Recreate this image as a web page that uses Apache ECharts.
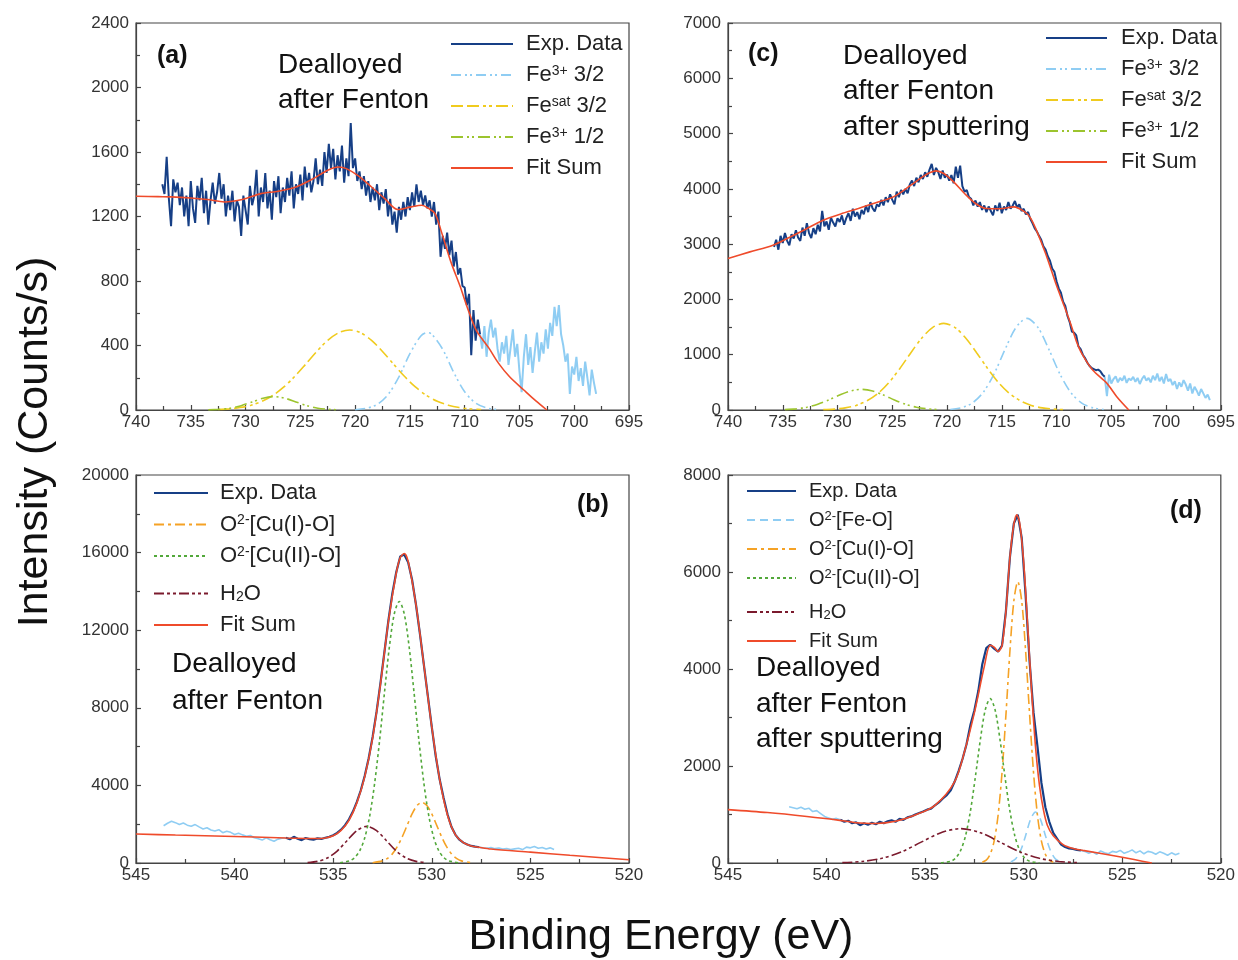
<!DOCTYPE html>
<html>
<head>
<meta charset="utf-8">
<title>XPS Fe 2p / O 1s</title>
<script src="https://cdn.jsdelivr.net/npm/echarts@6/dist/echarts.min.js"></script>
<style>
  html, body { margin: 0; padding: 0; background: #fff; }
  #chart { width: 1238px; height: 960px; }
</style>
</head>
<body>
<div id="chart"></div>
<script>
const FONT = '"Liberation Sans", Arial, Helvetica, sans-serif'

// ---------- panel (a): Fe 2p, after Fenton ----------
// measured spectrum, 0.2 eV steps going down in energy
const aExpStart = 737.6
const aExp = [
  1400, 1340, 1570, 1310, 1140, 1430, 1350, 1410, 1270, 1380,
  1200, 1330, 1140, 1420, 1250, 1160, 1390, 1300, 1440, 1220,
  1360, 1150, 1300, 1410, 1280, 1350, 1470, 1310, 1400, 1200,
  1330, 1240, 1360, 1170, 1300, 1260, 1080, 1330, 1240, 1150,
  1390, 1270, 1330, 1490, 1200, 1380, 1290, 1470, 1250, 1360,
  1180, 1420, 1320, 1450, 1220, 1380, 1290, 1440, 1330, 1480,
  1250, 1400, 1340, 1460, 1300, 1510, 1380, 1470, 1350, 1420,
  1560, 1400, 1490, 1390, 1600, 1470, 1650, 1500, 1620, 1430,
  1580, 1480, 1640, 1410, 1560, 1450, 1780, 1500, 1560, 1420,
  1480, 1370, 1450, 1330, 1420, 1290, 1380, 1300, 1400, 1240,
  1350, 1280, 1370, 1200, 1310, 1150, 1230, 1100, 1260, 1180,
  1290, 1200, 1320, 1240, 1350, 1260, 1400, 1290, 1360, 1270,
  1330, 1250, 1300, 1200, 1290, 1150, 1230, 950, 1080, 1000,
  1100, 960, 1050, 890, 980, 840, 880, 770, 760, 650,
  720, 340, 620, 430, 560, 470
]
// part of the spectrum outside the fit window
const aOutStart = 708.6
const aOut = [
  470, 380, 520, 330, 480, 560, 450, 510, 380, 300,
  420, 350, 460, 280, 390, 500, 330, 410, 240, 110,
  330, 470, 280, 390, 230, 360, 480, 300, 420, 350,
  500, 380, 540, 460, 640, 520, 650, 470, 400, 300,
  350, 100, 270, 220, 330, 180, 260, 150, 300, 200,
  90, 250, 170, 100
]
const aFitE = [740, 738, 736.8, 735, 733.5, 731.9, 730.3, 728.6, 727, 725.4, 723.8, 722.5, 721.5, 720.8, 719.8, 718.5, 717.3, 716.1, 715, 713.9, 713.3, 712.7, 712.1, 711.25, 710.4, 709.8, 708.95, 707.8, 706.9, 705.9, 704.6, 703.5, 702.5]
const aFitI = [1326, 1323, 1322, 1315, 1305, 1290, 1305, 1342, 1357, 1383, 1435, 1487, 1507, 1497, 1456, 1383, 1311, 1243, 1258, 1270, 1250, 1218, 1100, 917, 764, 644, 496, 385, 289, 206, 124, 56, 0]
const aFe32E = [720, 719, 718, 717, 716, 715, 714, 713.4, 713, 712, 711, 710, 709, 708, 707]
const aFe32I = [2, 10, 34, 95, 206, 349, 459, 480, 470, 376, 234, 113, 43, 13, 3]
const aSatE = [732.5, 731.5, 730.5, 729.5, 728.5, 727.5, 726.5, 725.5, 724.5, 723.5, 722.5, 721.5, 720.5, 719.5, 718.5, 717.5, 716.5, 715.5, 714.5, 713.5, 712.5, 711.5, 710.5, 709.5, 708.5]
const aSatI = [3, 7, 15, 30, 54, 91, 143, 209, 285, 363, 432, 479, 496, 479, 432, 363, 285, 209, 143, 91, 54, 30, 15, 7, 3]
const aFe12E = [733.4, 732.4, 731.4, 730.4, 729.4, 728.4, 727.4, 726.4, 725.4, 724.4, 723.4, 722.4, 721.4]
const aFe12I = [1, 4, 11, 27, 50, 73, 83, 73, 50, 27, 11, 4, 1]

// ---------- panel (c): Fe 2p, after Fenton + sputtering ----------
const cExpStart = 735.8
const cExp = [
  2950, 3080, 2900, 3150, 3020, 3200, 3060, 2980, 3180, 3100,
  3250, 3120, 3060, 3300, 3150, 3380, 3200, 3110, 3290, 3180,
  3350, 3230, 3600, 3320, 3410, 3260, 3480, 3390, 3320, 3470,
  3400, 3520, 3350, 3470, 3560, 3420, 3640, 3500, 3580, 3450,
  3620, 3540, 3700, 3580, 3760, 3650, 3590, 3720, 3680, 3800,
  3700, 3850, 3760, 3900, 3800, 3720, 3950, 3850, 3980, 3900,
  4000, 3920, 4080, 4150, 4050, 4200, 4120, 4250, 4180, 4300,
  4220, 4350, 4450, 4250, 4380, 4300, 4180, 4330, 4200, 4260,
  4150, 4250, 4100, 4400, 4200, 4420, 4050, 3950, 3980, 3850,
  3820, 3700, 3790, 3680, 3760, 3620, 3700, 3580, 3680, 3600,
  3520, 3700, 3600, 3750, 3560, 3680, 3620, 3760, 3640, 3700,
  3780, 3660, 3720, 3600, 3640, 3540, 3580, 3460, 3380, 3290,
  3230, 3150, 3080, 2960, 2900, 2780, 2700, 2560, 2500, 2330,
  2200, 2120, 1960, 1880, 1700, 1590, 1420, 1400, 1350, 1150,
  1100, 1000, 940, 860, 800, 760, 740, 720, 730, 700,
  640, 600
]
const cOutStart = 705.6
const cOut = [
  600, 250, 640, 480, 560, 610, 500, 580, 530, 620,
  490, 570, 540, 600, 510, 580, 470, 560, 620, 530,
  580, 500, 620, 540, 660, 520, 600, 480, 650, 520,
  560, 450, 520, 380, 500, 420, 540, 460, 350, 480,
  300, 420, 350, 260, 380, 300, 220, 280, 180
]
const cFitE = [740, 738, 735.9, 734.6, 733, 731.3, 729.7, 728.1, 726.5, 724.9, 723.3, 722.2, 721.6, 721, 720.3, 719.4, 718.4, 717.4, 716.4, 715.1, 713.9, 712.9, 712.4, 711.9, 711, 710, 709.3, 708.7, 708.2, 707.7, 706.7, 705.4, 704.5, 703.4]
const cFitI = [2741, 2860, 2982, 3102, 3260, 3434, 3545, 3645, 3750, 3855, 4066, 4220, 4290, 4325, 4277, 4126, 3916, 3735, 3645, 3640, 3675, 3584, 3480, 3280, 2830, 2250, 1880, 1550, 1250, 1024, 723, 482, 241, 0]
const cFe32E = [719.7, 718.7, 717.7, 716.7, 715.7, 714.7, 713.7, 712.7, 711.7, 710.7, 709.7, 708.7, 707.7, 706.7, 705.7]
const cFe32I = [10, 40, 125, 318, 654, 1097, 1494, 1657, 1494, 1097, 654, 318, 125, 40, 10]
const cSatE = [731.3, 730.3, 729.3, 728.3, 727.3, 726.3, 725.3, 724.3, 723.3, 722.3, 721.3, 720.3, 719.3, 718.3, 717.3, 716.3, 715.3, 714.3, 713.3, 712.3, 711.3, 710.3, 709.3]
const cSatI = [6, 16, 38, 83, 166, 300, 497, 752, 1037, 1303, 1496, 1566, 1496, 1303, 1037, 752, 497, 300, 166, 83, 38, 16, 6]
const cFe12E = [734.8, 733.8, 732.8, 731.8, 730.8, 729.8, 728.8, 727.8, 726.8, 725.8, 724.8, 723.8, 722.8, 721.8, 720.8]
const cFe12I = [7, 21, 50, 104, 182, 271, 344, 373, 344, 271, 182, 104, 50, 21, 7]

// ---------- panel (b): O 1s, after Fenton ----------
const bOutLStart = 543.6
const bOutL = [
  1920, 2050, 2150, 2080, 1980, 2060, 1950, 1890, 1980, 1860,
  1750, 1820, 1700, 1650, 1720, 1560, 1640, 1580, 1470, 1530,
  1450, 1380, 1420, 1300, 1250, 1180, 1300, 1200, 1120, 1230,
  1280, 1300
]
const bExpStart = 537.4
const bExp = [
  1300, 1220, 1350, 1250, 1180, 1290, 1230, 1200, 1270, 1240,
  1300, 1350, 1430, 1550, 1720, 1950, 2250, 2650, 3150, 3750,
  4500, 5400, 6500, 7800, 9300, 10900, 12500, 13900, 15000, 15800,
  15900, 15500, 14600, 13300, 11800, 10200, 8600, 7000, 5500, 4300,
  3350, 2500, 1850, 1450, 1200, 1050, 950, 880, 840, 810
]
const bOutRStart = 527.6
const bOutR = [810, 780, 760, 800, 740, 770, 720, 750, 700, 730, 760, 690, 820, 780, 850, 760, 800, 720, 780, 700]
const bFitE = [545, 543, 541, 539, 537.4, 536.4, 535.8, 535.4, 535.0, 534.6, 534.2, 533.8, 533.4, 533.0, 532.6, 532.2, 531.8, 531.6, 531.4, 531.2, 530.8, 530.4, 530.0, 529.6, 529.2, 528.8, 528.4, 528.0, 527.6, 527, 525, 523, 520]
const bFitI = [1494, 1440, 1390, 1340, 1290, 1265, 1260, 1290, 1400, 1680, 2200, 3100, 4450, 6450, 9250, 12450, 14950, 15750, 15950, 15550, 13300, 10200, 7000, 4300, 2450, 1450, 1050, 880, 810, 720, 560, 400, 170]
const bCu1E = [533.0, 532.5, 532.25, 532.0, 531.75, 531.5, 531.25, 531.0, 530.75, 530.5, 530.25, 530.0, 529.75, 529.5, 529.25, 529.0, 528.75, 528.5, 528.0]
const bCu1I = [15, 110, 240, 470, 840, 1350, 1940, 2530, 2960, 3125, 2960, 2530, 1940, 1350, 840, 470, 240, 110, 15]
const bCu2E = [534.65, 534.15, 533.9, 533.65, 533.4, 533.15, 532.9, 532.65, 532.4, 532.15, 531.9, 531.65, 531.4, 531.15, 530.9, 530.65, 530.4, 530.15, 529.9, 529.65, 529.4, 529.15, 528.65]
const bCu2I = [15, 115, 290, 640, 1300, 2420, 4100, 6290, 8780, 11150, 12850, 13480, 12850, 11150, 8780, 6290, 4100, 2420, 1300, 640, 290, 115, 15]
const bH2OE = [536.3, 535.8, 535.3, 534.8, 534.3, 533.8, 533.3, 532.8, 532.3, 531.8, 531.3, 530.8, 530.3]
const bH2OI = [21, 83, 255, 615, 1150, 1670, 1890, 1670, 1150, 615, 255, 83, 21]

// ---------- panel (d): O 1s, after Fenton + sputtering ----------
const dOutLStart = 541.9
const dOutL = [1160, 1140, 1120, 1150, 1110, 1130, 1060, 1080, 1020, 960, 930, 900, 920, 890]
const dExpStart = 539.3
const dExp = [
  890, 850, 870, 820, 840, 780, 820, 790, 830, 800,
  850, 820, 860, 880, 850, 910, 890, 940, 960, 1000,
  1030, 1060, 1100, 1120, 1190, 1250, 1330, 1400, 1500, 1680,
  1900, 2150, 2450, 2850, 3150, 3550, 4100, 4430, 4500, 4420,
  4360, 4480, 5200, 6300, 7000, 7180, 6700, 5500, 4150, 3100,
  2400, 1650, 1150, 850, 620, 500, 380, 330, 300, 290,
  270, 260
]
const dOutRStart = 527.1
const dOutR = [260, 240, 200, 230, 180, 250, 210, 190, 240, 220, 260, 200, 230, 270, 210, 250, 190, 240, 220, 180, 230, 200, 160, 210, 170, 200]
const dFitE = [545, 543, 541, 539.5, 538.5, 537.5, 536.5, 535.5, 534.5, 533.5, 533.0, 532.5, 532.0, 531.7, 531.5, 531.3, 531.1, 530.9, 530.7, 530.5, 530.35, 530.2, 530.0, 529.8, 529.6, 529.4, 529.2, 529.0, 528.8, 528.5, 528.0, 527.5, 527.0, 525.0, 523.5]
const dFitI = [1101, 1040, 960, 890, 830, 815, 860, 990, 1190, 1680, 2300, 3100, 4050, 4490, 4450, 4360, 4480, 5200, 6300, 6980, 7180, 7000, 6200, 4900, 3550, 2400, 1600, 1100, 780, 560, 380, 300, 260, 120, 0]
const dFeOE = [530.65, 530.4, 530.15, 529.9, 529.65, 529.4, 529.15, 528.9, 528.65, 528.4, 528.15]
const dFeOI = [22, 89, 263, 568, 900, 1052, 900, 568, 263, 89, 22]
const dCu1E = [532.1, 531.9, 531.7, 531.5, 531.3, 531.1, 530.9, 530.7, 530.5, 530.3, 530.1, 529.9, 529.7, 529.5, 529.3, 529.1, 528.9, 528.7, 528.5]
const dCu1I = [18, 60, 180, 450, 980, 1860, 3060, 4360, 5400, 5800, 5400, 4360, 3060, 1860, 980, 450, 180, 60, 18]
const dCu2E = [534.2, 533.7, 533.45, 533.2, 532.95, 532.7, 532.45, 532.2, 531.95, 531.7, 531.45, 531.2, 530.95, 530.7, 530.45, 530.2, 529.95, 529.7, 529.2]
const dCu2I = [3, 35, 102, 257, 562, 1075, 1780, 2540, 3156, 3390, 3156, 2540, 1780, 1075, 562, 257, 102, 35, 3]
const dH2OE = [539.2, 538.2, 537.2, 536.2, 535.2, 534.2, 533.2, 532.2, 531.2, 530.2, 529.2, 528.2, 527.2]
const dH2OI = [8, 31, 96, 230, 430, 625, 708, 625, 430, 230, 96, 31, 8]

// axis ranges / ticks
const feRange = [695, 740]
const oRange = [520, 545]

// ---------- styles ----------
const COLORS = {
  exp: '#163f86',
  out: '#8fcdf3',
  fit: '#ef4b2b',
  fe32: '#8fcdf3',
  sat: '#f0cb1e',
  fe12: '#9cc42e',
  cu1: '#f5a225',
  cu2: '#52a83a',
  h2o: '#7b1a2d',
  feo: '#8fcdf3'
}
const DASH = {
  fe32: [10, 4, 2, 3, 2, 4],
  sat: [12, 4, 12, 4, 3, 3, 3, 4],
  fe12: [12, 4, 2, 3, 2, 4],
  cu1: [10, 4, 3, 4],
  cu2: [3, 3],
  h2o: [10, 3, 3, 3, 3, 3],
  feo: [8, 5]
}

// 0.2 eV spaced spectrum -> [E, I]
const stepSeries = (start, vals) => vals.map((v, i) => [+(start - i * 0.2).toFixed(2), v])
const pairSeries = (es, is) => es.map((e, i) => [e, is[i]])

const line = (name, gi, data, color, width, type, smooth) => ({
  type: 'line',
  name,
  xAxisIndex: gi,
  yAxisIndex: gi,
  data,
  color,
  showSymbol: false,
  symbol: 'none',
  smooth: smooth || false,
  silent: true,
  animation: false,
  clip: true,
  lineStyle: { color, width, type: type || 'solid' }
})

const xAxisCfg = (gi, range) => ({
  type: 'value',
  gridIndex: gi,
  min: range[0],
  max: range[1],
  interval: 5,
  inverse: true,
  axisLine: { show: true, onZero: false, lineStyle: { color: '#444', width: 1.2 } },
  axisTick: { show: true, inside: true, length: 5, lineStyle: { color: '#444', width: 1.2 } },
  minorTick: { show: true, splitNumber: 2, length: 4, lineStyle: { color: '#444', width: 1.2 } },
  splitLine: { show: false },
  axisLabel: { color: '#333', fontSize: 17, fontFamily: FONT, margin: 4 }
})

const yAxisCfg = (gi, max, interval) => ({
  type: 'value',
  gridIndex: gi,
  min: 0,
  max,
  interval,
  axisLine: { show: true, onZero: false, lineStyle: { color: '#444', width: 1.2 } },
  axisTick: { show: true, inside: true, length: 5, lineStyle: { color: '#444', width: 1.2 } },
  minorTick: { show: true, splitNumber: 2, length: 4, lineStyle: { color: '#444', width: 1.2 } },
  splitLine: { show: false },
  axisLabel: { color: '#333', fontSize: 17, fontFamily: FONT, margin: 7, formatter: (v) => String(v) }
})

// legend labels with super/subscripts
const LABELS = {
  'Fe3+ 3/2': 'Fe{sup|3+} 3/2',
  'Fesat 3/2': 'Fe{sup|sat} 3/2',
  'Fe3+ 1/2': 'Fe{sup|3+} 1/2',
  'O2-[Fe-O]': 'O{sup|2-}[Fe-O]',
  'O2-[Cu(I)-O]': 'O{sup|2-}[Cu(I)-O]',
  'O2-[Cu(II)-O]': 'O{sup|2-}[Cu(II)-O]',
  'H2O': '{m|H}{sub|2}{m|O}'
}

const legendCfg = (names, left, top, itemWidth, fs, gap, pad) => {
  const small = Math.round(fs * 0.64)
  return {
    orient: 'vertical',
    left,
    top,
    padding: 0,
    itemWidth,
    itemHeight: 14,
    itemGap: gap,
    selectedMode: false,
    data: names,
    // line only, no marker dot
    itemStyle: { opacity: 0 },
    formatter: (n) => LABELS[n] || n,
    textStyle: {
      fontFamily: FONT,
      fontSize: fs,
      lineHeight: fs,
      color: '#222',
      padding: [0, 0, 0, pad],
      rich: {
        sup: { fontFamily: FONT, fontSize: small, lineHeight: small, verticalAlign: 'top', color: '#222' },
        m: { fontFamily: FONT, fontSize: fs, lineHeight: fs, verticalAlign: 'top', color: '#222' },
        sub: { fontFamily: FONT, fontSize: small, lineHeight: small, padding: [Math.round(fs * 0.62), 0, 0, 0], verticalAlign: 'bottom', color: '#222' }
      }
    }
  }
}

const txt = (text, x, y, size, opts) => ({
  type: 'text',
  x,
  y,
  rotation: (opts && opts.rotation) || 0,
  silent: true,
  style: {
    text,
    fill: '#111',
    font: ((opts && opts.bold) ? 'bold ' : '') + size + 'px ' + FONT,
    align: (opts && opts.align) || 'left',
    verticalAlign: 'middle'
  }
})

const chart = echarts.init(document.getElementById('chart'), null, { renderer: 'canvas' })

const option = {
  backgroundColor: '#fff',
  animation: false,
  grid: [
    { left: 136, top: 23, width: 493, height: 387, show: true, borderColor: '#444', borderWidth: 1.2 },
    { left: 136, top: 475, width: 493, height: 388, show: true, borderColor: '#444', borderWidth: 1.2 },
    { left: 728, top: 23, width: 494, height: 387, show: true, borderColor: '#444', borderWidth: 1.2 },
    { left: 728, top: 475, width: 494, height: 388, show: true, borderColor: '#444', borderWidth: 1.2 }
  ],
  xAxis: [xAxisCfg(0, feRange), xAxisCfg(1, oRange), xAxisCfg(2, feRange), xAxisCfg(3, oRange)],
  yAxis: [yAxisCfg(0, 2400, 400), yAxisCfg(1, 20000, 4000), yAxisCfg(2, 7000, 1000), yAxisCfg(3, 8000, 2000)],
  legend: [
    legendCfg(['Exp. Data', 'Fe3+ 3/2', 'Fesat 3/2', 'Fe3+ 1/2', 'Fit Sum'], 450, 33, 62, 22, 9, 8),
    legendCfg(['Exp. Data', 'O2-[Cu(I)-O]', 'O2-[Cu(II)-O]', 'H2O', 'Fit Sum'], 153, 482, 54, 22, 9.5, 7),
    legendCfg(['Exp. Data', 'Fe3+ 3/2', 'Fesat 3/2', 'Fe3+ 1/2', 'Fit Sum'], 1045, 27, 61, 22, 9, 9),
    legendCfg(['Exp. Data', 'O2-[Fe-O]', 'O2-[Cu(I)-O]', 'O2-[Cu(II)-O]', 'H2O', 'Fit Sum'], 746, 481, 49, 20, 9, 8)
  ],
  series: [
    // (a)
    line('out-a', 0, stepSeries(aOutStart, aOut), COLORS.out, 2),
    line('Exp. Data', 0, stepSeries(aExpStart, aExp), COLORS.exp, 2),
    line('Fe3+ 3/2', 0, pairSeries(aFe32E, aFe32I), COLORS.fe32, 1.6, DASH.fe32, 0.3),
    line('Fesat 3/2', 0, pairSeries(aSatE, aSatI), COLORS.sat, 1.6, DASH.sat, 0.3),
    line('Fe3+ 1/2', 0, pairSeries(aFe12E, aFe12I), COLORS.fe12, 1.6, DASH.fe12, 0.3),
    line('Fit Sum', 0, pairSeries(aFitE, aFitI), COLORS.fit, 1.6, 'solid', 0.3),
    // (b)
    line('out-b1', 1, stepSeries(bOutLStart, bOutL), COLORS.out, 1.6),
    line('out-b2', 1, stepSeries(bOutRStart, bOutR), COLORS.out, 1.6),
    line('Exp. Data', 1, stepSeries(bExpStart, bExp), COLORS.exp, 2.2),
    line('O2-[Cu(I)-O]', 1, pairSeries(bCu1E, bCu1I), COLORS.cu1, 1.6, DASH.cu1, 0.3),
    line('O2-[Cu(II)-O]', 1, pairSeries(bCu2E, bCu2I), COLORS.cu2, 1.6, DASH.cu2, 0.3),
    line('H2O', 1, pairSeries(bH2OE, bH2OI), COLORS.h2o, 1.6, DASH.h2o, 0.3),
    line('Fit Sum', 1, pairSeries(bFitE, bFitI), COLORS.fit, 1.6, 'solid', 0.3),
    // (c)
    line('out-c', 2, stepSeries(cOutStart, cOut), COLORS.out, 2),
    line('Exp. Data', 2, stepSeries(cExpStart, cExp), COLORS.exp, 2),
    line('Fe3+ 3/2', 2, pairSeries(cFe32E, cFe32I), COLORS.fe32, 1.6, DASH.fe32, 0.3),
    line('Fesat 3/2', 2, pairSeries(cSatE, cSatI), COLORS.sat, 1.6, DASH.sat, 0.3),
    line('Fe3+ 1/2', 2, pairSeries(cFe12E, cFe12I), COLORS.fe12, 1.6, DASH.fe12, 0.3),
    line('Fit Sum', 2, pairSeries(cFitE, cFitI), COLORS.fit, 1.6, 'solid', 0.3),
    // (d)
    line('out-d1', 3, stepSeries(dOutLStart, dOutL), COLORS.out, 1.6),
    line('out-d2', 3, stepSeries(dOutRStart, dOutR), COLORS.out, 1.6),
    line('Exp. Data', 3, stepSeries(dExpStart, dExp), COLORS.exp, 2.2),
    line('O2-[Fe-O]', 3, pairSeries(dFeOE, dFeOI), COLORS.feo, 1.6, DASH.feo, 0.3),
    line('O2-[Cu(I)-O]', 3, pairSeries(dCu1E, dCu1I), COLORS.cu1, 1.6, DASH.cu1, 0.3),
    line('O2-[Cu(II)-O]', 3, pairSeries(dCu2E, dCu2I), COLORS.cu2, 1.6, DASH.cu2, 0.3),
    line('H2O', 3, pairSeries(dH2OE, dH2OI), COLORS.h2o, 1.6, DASH.h2o, 0.3),
    line('Fit Sum', 3, pairSeries(dFitE, dFitI), COLORS.fit, 1.6, 'solid', 0.3)
  ],
  graphic: [
    // panel tags
    txt('(a)', 157, 56, 25, { bold: true }),
    txt('(c)', 748, 54, 25, { bold: true }),
    txt('(b)', 577, 505, 25, { bold: true }),
    txt('(d)', 1170, 511, 25, { bold: true }),
    // sample notes
    txt('Dealloyed', 278, 65, 28),
    txt('after Fenton', 278, 100, 28),
    txt('Dealloyed', 843, 56, 28),
    txt('after Fenton', 843, 91, 28),
    txt('after sputtering', 843, 127, 28),
    txt('Dealloyed', 172, 664, 28),
    txt('after Fenton', 172, 701, 28),
    txt('Dealloyed', 756, 668, 28),
    txt('after Fenton', 756, 704, 28),
    txt('after sputtering', 756, 739, 28),
    // shared axis titles
    txt('Intensity (Counts/s)', 35, 442, 43, { align: 'center', rotation: Math.PI / 2 }),
    txt('Binding Energy (eV)', 661, 937, 43, { align: 'center' })
  ]
}

chart.setOption(option)
</script>
</body>
</html>
